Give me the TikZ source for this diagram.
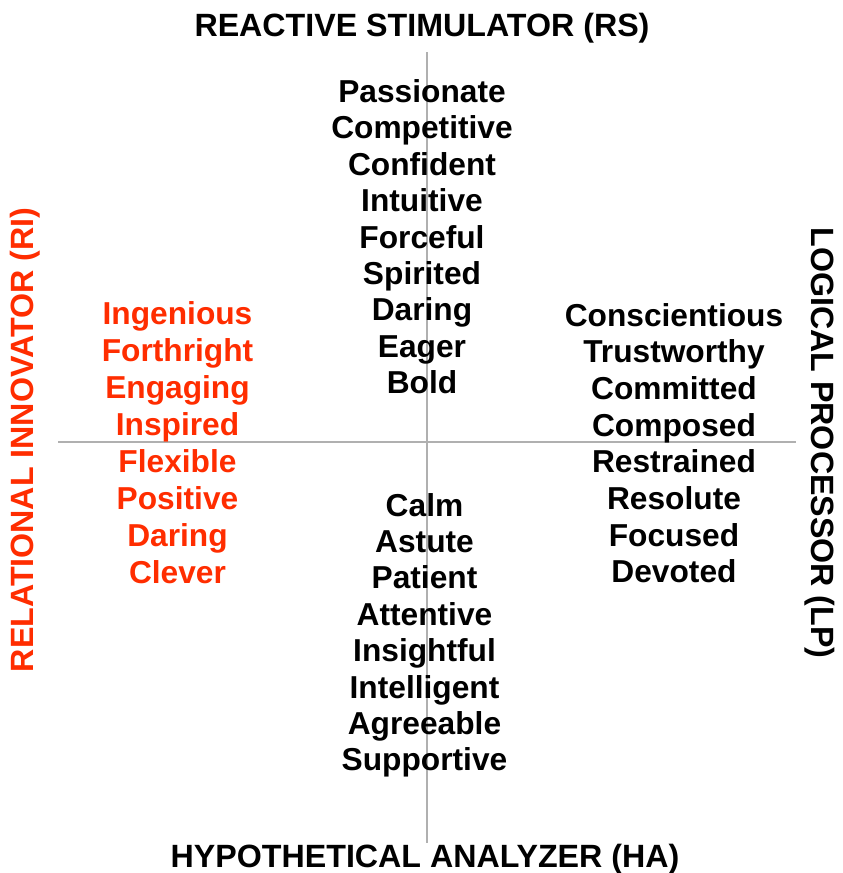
\documentclass[tikz,border=0pt]{standalone}
\usepackage{fontspec}
\setmainfont{Liberation Sans}
\definecolor{rired}{RGB}{255,45,0}
\definecolor{axisgray}{RGB}{176,176,176}
\newcommand{\wordfont}{\fontsize{31.7}{31.7}\selectfont\bfseries}
\newcommand{\titlefont}{\fontsize{32.2}{32.2}\selectfont\bfseries}
\begin{document}
\begin{tikzpicture}[x=1pt,y=-1pt,
  word/.style={inner sep=0pt,anchor=base,font=\wordfont},
  ttl/.style={inner sep=0pt,anchor=base,font=\titlefont},
  axis/.style={draw=axisgray,line width=1.6pt}]
\useasboundingbox (0,0) rectangle (843,873);
% axes
\coordinate (vtop) at (427,52);
\coordinate (vbot) at (427,843);
\coordinate (hleft) at (58,442);
\coordinate (hright) at (796,442);
\draw[axis] (vtop) -- (vbot);
\draw[axis] (hleft) -- (hright);
% titles
\node[ttl] (rs) at (422,36.5) {REACTIVE STIMULATOR (RS)};
\node[ttl] (ha) at (425,867.5) {HYPOTHETICAL ANALYZER (HA)};
\node[ttl,rotate=90,text=rired] (ri) at (34,440) {RELATIONAL INNOVATOR (RI)};
\node[ttl,rotate=-90] (lp) at (811,443) {LOGICAL PROCESSOR (LP)};
% top column
\foreach \w [count=\i from 0] in {Passionate,Competitive,Confident,Intuitive,Forceful,Spirited,Daring,Eager,Bold}
  \node[word] (top\i) at (422,102.5+36.4*\i) {\w};
% bottom column
\foreach \w [count=\i from 0] in {Calm,Astute,Patient,Attentive,Insightful,Intelligent,Agreeable,Supportive}
  \node[word] (bot\i) at (424.5,516+36.4*\i) {\w};
% left column
\foreach \w [count=\i from 0] in {Ingenious,Forthright,Engaging,Inspired,Flexible,Positive,Daring,Clever}
  \node[word,text=rired] (lft\i) at (177.5,324+37*\i) {\w};
% right column
\foreach \w [count=\i from 0] in {Conscientious,Trustworthy,Committed,Composed,Restrained,Resolute,Focused,Devoted}
  \node[word] (rgt\i) at (674,326+36.7*\i) {\w};
\end{tikzpicture}
\end{document}
